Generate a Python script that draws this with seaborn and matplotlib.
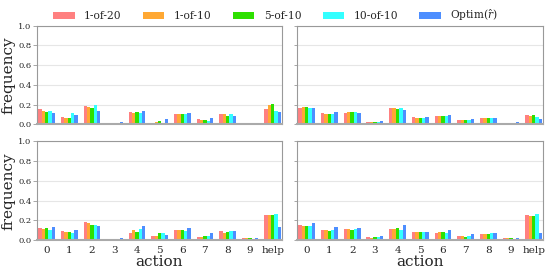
import numpy as np
import pandas as pd
import matplotlib
matplotlib.use("Agg")
import matplotlib.pyplot as plt
import seaborn as sns

actions = ["0", "1", "2", "3", "4", "5", "6", "7", "8", "9", "help"]
methods = ["1-of-20", "1-of-10", "5-of-10", "10-of-10", r"Optim($\hat{r}$)"]
colors = ["#ff8080", "#ffa833", "#2ee000", "#33ffff", "#4d8eff"]

# panel: top-left
tl_1of20 = [0.152, 0.078, 0.183, 0.003, 0.125, 0.014, 0.105, 0.054, 0.108, 0.003, 0.152]
tl_1of10 = [0.135, 0.068, 0.176, 0.003, 0.115, 0.020, 0.108, 0.047, 0.105, 0.003, 0.193]
tl_5of10 = [0.128, 0.061, 0.169, 0.003, 0.125, 0.030, 0.108, 0.047, 0.088, 0.003, 0.206]
tl_10of10 = [0.135, 0.115, 0.196, 0.003, 0.115, 0.017, 0.105, 0.034, 0.105, 0.003, 0.135]
tl_optim = [0.118, 0.091, 0.135, 0.020, 0.135, 0.050, 0.115, 0.064, 0.081, 0.017, 0.128]

# panel: top-right
tr_1of20 = [0.166, 0.115, 0.118, 0.024, 0.162, 0.071, 0.085, 0.044, 0.061, 0.005, 0.098]
tr_1of10 = [0.172, 0.108, 0.122, 0.024, 0.162, 0.068, 0.085, 0.044, 0.061, 0.005, 0.085]
tr_5of10 = [0.172, 0.105, 0.128, 0.024, 0.159, 0.068, 0.081, 0.044, 0.061, 0.005, 0.095]
tr_10of10 = [0.166, 0.108, 0.125, 0.024, 0.166, 0.068, 0.085, 0.041, 0.061, 0.005, 0.078]
tr_optim = [0.166, 0.122, 0.112, 0.034, 0.149, 0.074, 0.091, 0.050, 0.068, 0.020, 0.057]

# panel: bottom-left
bl_1of20 = [0.117, 0.093, 0.180, 0.007, 0.070, 0.043, 0.097, 0.030, 0.087, 0.023, 0.257]
bl_1of10 = [0.110, 0.080, 0.177, 0.013, 0.103, 0.040, 0.097, 0.030, 0.073, 0.023, 0.257]
bl_5of10 = [0.117, 0.083, 0.157, 0.007, 0.080, 0.067, 0.100, 0.043, 0.080, 0.017, 0.257]
bl_10of10 = [0.103, 0.073, 0.153, 0.007, 0.107, 0.067, 0.087, 0.043, 0.087, 0.013, 0.260]
bl_optim = [0.127, 0.097, 0.140, 0.023, 0.137, 0.053, 0.117, 0.067, 0.087, 0.017, 0.133]

# panel: bottom-right
br_1of20 = [0.150, 0.097, 0.110, 0.027, 0.107, 0.077, 0.073, 0.037, 0.063, 0.017, 0.250]
br_1of10 = [0.147, 0.100, 0.110, 0.023, 0.107, 0.077, 0.077, 0.037, 0.060, 0.017, 0.247]
br_5of10 = [0.147, 0.093, 0.103, 0.027, 0.117, 0.077, 0.077, 0.033, 0.063, 0.017, 0.247]
br_10of10 = [0.140, 0.100, 0.107, 0.027, 0.103, 0.077, 0.070, 0.037, 0.067, 0.013, 0.260]
br_optim = [0.170, 0.127, 0.117, 0.040, 0.157, 0.080, 0.097, 0.057, 0.073, 0.023, 0.067]

panels = [
    [tl_1of20, tl_1of10, tl_5of10, tl_10of10, tl_optim],
    [tr_1of20, tr_1of10, tr_5of10, tr_10of10, tr_optim],
    [bl_1of20, bl_1of10, bl_5of10, bl_10of10, bl_optim],
    [br_1of20, br_1of10, br_5of10, br_10of10, br_optim],
]

sns.set_style("whitegrid")
plt.rcParams["font.family"] = ["DejaVu Serif"]
plt.rcParams["mathtext.fontset"] = "dejavuserif"

fig = plt.figure(figsize=(5.48, 2.74), dpi=100)
lefts = [37 / 548, 297 / 548]
widths = [245 / 548, 246 / 548]
bottoms = [1 - 124.3 / 274, 1 - 240 / 274]
height = (124.3 - 25.7) / 274

axes = []
for r in range(2):
    for c in range(2):
        ax = fig.add_axes([lefts[c], bottoms[r], widths[c], height])
        axes.append((ax, r, c))

pal = dict(zip(methods, colors))
for idx, (ax, r, c) in enumerate(axes):
    vals = panels[idx]
    rows = []
    for m, series in zip(methods, vals):
        for a, v in zip(actions, series):
            rows.append({"action": a, "freq": v, "method": m})
    df = pd.DataFrame(rows)
    sns.barplot(data=df, x="action", y="freq", hue="method", order=actions,
                hue_order=methods, palette=pal, width=0.74, ax=ax,
                legend=False, saturation=1, linewidth=0)
    ax.set_xlim(-0.43, 10.41)
    ax.set_ylim(0, 1.0)
    ax.set_yticks([0, 0.2, 0.4, 0.6, 0.8, 1.0])
    ax.grid(axis="x", visible=False)
    ax.grid(axis="y", color="#e6e6e6", linewidth=0.8)
    for s in ax.spines.values():
        s.set_color("#999999")
        s.set_linewidth(0.8)
    ax.spines["bottom"].set_color("#aaaaaa")
    ax.spines["bottom"].set_linewidth(1.5)
    ax.tick_params(axis="y", left=True, length=3, width=0.6, color="#999999",
                   labelsize=6, pad=1)
    ax.tick_params(axis="x", bottom=False, labelsize=7.5, pad=1)
    if c == 1:
        ax.tick_params(axis="y", labelleft=False, length=2)
        ax.set_ylabel("")
    else:
        ax.set_ylabel("frequency", fontsize=11, labelpad=2)
    if r == 0:
        ax.tick_params(axis="x", labelbottom=False)
        ax.set_xlabel("")
    else:
        ax.set_xlabel("action", fontsize=11, labelpad=0)

from matplotlib.patches import Patch
handles = [Patch(facecolor=col, edgecolor="none") for col in colors]
fig.legend(handles, methods, loc="center", bbox_to_anchor=(0.503, 0.943),
           ncol=5, frameon=False, fontsize=7.7, handlelength=2.0,
           handleheight=0.7, handletextpad=0.87, columnspacing=2.0,
           borderaxespad=0, borderpad=0)

fig.savefig("out.png", dpi=100)
